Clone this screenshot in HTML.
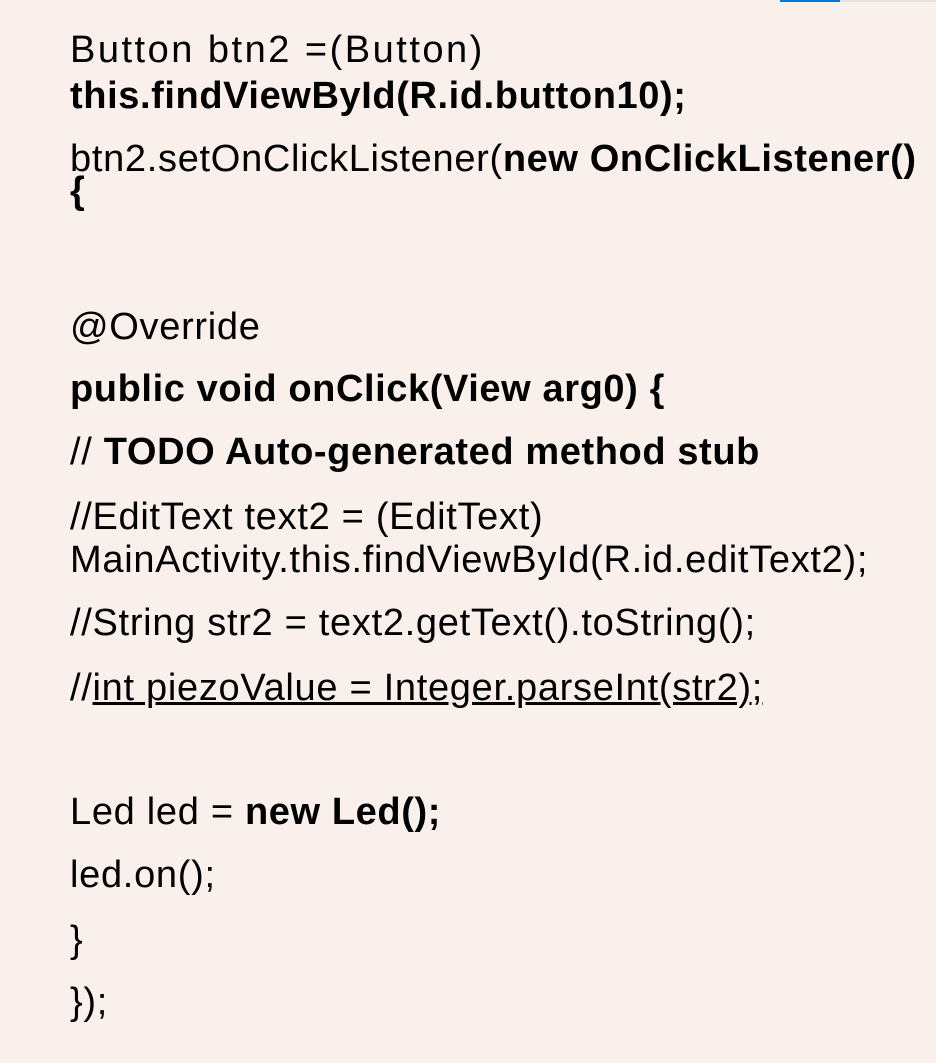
<!DOCTYPE html>
<html><head><meta charset="utf-8"><style>
body{margin:0;width:936px;height:1063px;background:#f9f0eb;position:relative;overflow:hidden;font-family:"Liberation Sans","Noto Sans CJK KR",sans-serif;color:#000}
.l{position:absolute;left:70px;font-size:38px;line-height:40px;white-space:nowrap;letter-spacing:0.7px}
b{font-weight:bold;letter-spacing:0.6px}
</style></head><body>
<div style="position:absolute;left:780px;top:0;width:60px;height:2px;background:#0078d7"></div>
<div style="position:absolute;left:840px;top:0;width:96px;height:2px;background:#e4e2e0"></div>
<div class="l" style="top:30px;letter-spacing:2.5px">Button btn2 =(Button)</div>
<div class="l" style="top:76px"><b>this.findViewById(R.id.button10);</b></div>
<div class="l" style="top:139px">btn2.setOnClickListener(<b>new OnClickListener()</b></div>
<div class="l" style="top:171px"><b>{</b></div>
<div class="l" style="top:307px">@Override</div>
<div class="l" style="top:369px"><b>public void onClick(View arg0) {</b></div>
<div class="l" style="top:432px">// <b>TODO Auto-generated method stub</b></div>
<div class="l" style="top:497px">//EditText text2 = (EditText)</div>
<div class="l" style="top:540px">MainActivity.this.findViewById(R.id.editText2);</div>
<div class="l" style="top:603px">//String str2 = text2.getText().toString();</div>
<div class="l" style="top:668px">//<u>int piezoValue = Integer.parseInt(str2);</u></div>
<div class="l" style="top:792px">Led led = <b>new Led();</b></div>
<div class="l" style="top:855px">led.on();</div>
<div class="l" style="top:920px">}</div>
<div class="l" style="top:982px">});</div>
</body></html>
